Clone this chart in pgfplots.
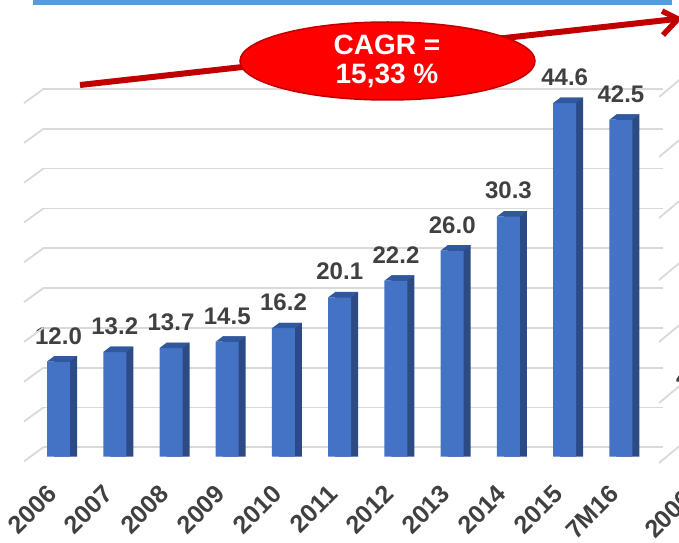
\documentclass[border=0pt]{standalone}
\usepackage{pgfplots}
\usepackage{pgfplotstable}
\pgfplotsset{compat=1.18}
\usepackage{fontspec}
\setmainfont{Liberation Sans}
\definecolor{frontblue}{HTML}{4472C4}
\definecolor{sideblue}{HTML}{2C4A84}
\definecolor{topblue}{HTML}{30589F}
\definecolor{gridgray}{HTML}{D9D9D9}
\definecolor{labelgray}{HTML}{404040}
\definecolor{arrowred}{HTML}{C00000}
\definecolor{topline}{HTML}{5B9BD5}
\pgfdeclareplotmark{topface}{%
  \pgfpathmoveto{\pgfpoint{-11.5pt}{0pt}}%
  \pgfpathlineto{\pgfpoint{11.5pt}{0pt}}%
  \pgfpathlineto{\pgfpoint{18.5pt}{5.3pt}}%
  \pgfpathlineto{\pgfpoint{-4.5pt}{5.3pt}}%
  \pgfpathclose\pgfusepathqfill}
\pgfplotstableread{
x v
0 12.0
1 13.2
2 13.7
3 14.5
4 16.2
5 20.1
6 22.2
7 26.0
8 30.3
9 44.6
10 42.5
}\datatable
\begin{document}
\begin{tikzpicture}[x=1pt,y=1pt]
\useasboundingbox (0,0) rectangle (679,542);
\begin{axis}[
  at={(43pt,85.3pt)}, anchor=south west,
  scale only axis, width=620pt, height=456.7pt,
  xmin=-0.2756, xmax=10.747, ymin=0, ymax=57.59,
  clip=false,
  axis line style={draw=none},
  major tick length=0pt,
  ytick={1.19,6.21,11.23,16.25,21.27,26.29,31.31,36.33,41.35,46.37},
  yticklabels={},
  ymajorgrids, grid style={gridgray, line width=1.8pt},
  xtick={0,...,10},
  xticklabels={2006,2007,2008,2009,2010,2011,2012,2013,2014,2015,7M16},
  xticklabel style={xshift=-13pt, yshift=-26.5pt, rotate=45, anchor=north east, inner sep=0pt,
    font=\fontsize{25}{25}\selectfont\bfseries, text=labelgray},
  /pgf/number format/.cd, fixed, fixed zerofill, precision=1, assume math mode=true,
]
\addplot[ybar, bar width=23pt, bar shift=7pt, fill=sideblue, draw=none, forget plot]
  table[x=x, y expr=\thisrow{v}+0.67] {\datatable};
\addplot[ybar, bar width=23pt, bar shift=0pt, fill=frontblue, draw=none,
  nodes near coords,
  nodes near coords style={anchor=base, yshift=17.5pt, inner sep=0pt,
    font=\fontsize{24}{24}\selectfont\bfseries, text=labelgray}]
  table[x=x, y=v] {\datatable};
\addplot[only marks, mark=topface, mark options={fill=topblue, draw=none}, forget plot]
  table[x=x, y=v] {\datatable};
\end{axis}
% 3D wall diagonals (left)
\foreach \y in {447.3,407.5,367.7,327.9,288.1,248.3,208.5,168.7,128.9,89.1}
  \draw[gridgray, line width=1.8pt] (43.3,{542-\y}) -- ++(-19.3,-14);
% neighbouring chart fragments (right)
\foreach \y in {97,157,218,280,342,403,463}
  \draw[gridgray, line width=1.8pt] (659,{542-\y}) -- ++(24,20);
\node[anchor=west, inner sep=0pt, font=\fontsize{24}{24}\selectfont\bfseries, text=labelgray] at (676,165) {4};
\node[rotate=45, anchor=base west, inner sep=0pt, font=\fontsize{25}{25}\selectfont\bfseries, text=labelgray] at (655,2) {2006};
% top blue line
\fill[topline] (32.5,537) rectangle (672,542);
% CAGR arrow
\draw[arrowred, line width=6pt] (80,457) -- (676,523);
\draw[arrowred, line width=5.5pt, line join=miter, line cap=butt] (662,531) -- (678,523) -- (663,507);
% ellipse
\draw[arrowred, fill=red, line width=1.5pt] (387.5,481) ellipse [x radius=147.5, y radius=39];
\node[anchor=base, inner sep=0pt, text=white, font=\fontsize{28}{28}\selectfont\bfseries] at (387,487) {CAGR =};
\node[anchor=base, inner sep=0pt, text=white, font=\fontsize{28}{28}\selectfont\bfseries] at (387,458) {15,33 \%};
\end{tikzpicture}
\end{document}
